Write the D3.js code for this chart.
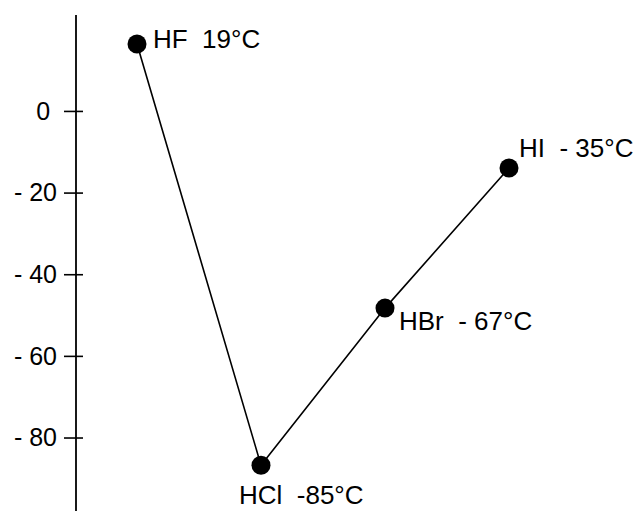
<!DOCTYPE html>
<html>
<head>
<meta charset="utf-8">
<script src="https://cdn.jsdelivr.net/npm/d3@7"></script>
<style>
  body { margin: 0; background: #fff; }
  svg { display: block; font-family: "Liberation Sans", Arial, sans-serif; }
  .label { white-space: pre; }
</style>
</head>
<body>
<div id="chart"></div>
<script>
// hydrogen halides, boiling point chart
const compounds = ['HF', 'HCl', 'HBr', 'HI'];
const plotted = [16.4, -86.8, -48.3, -14];          // where the dots sit
const labels = ['HF  19°C', 'HCl  -85°C', 'HBr  - 67°C', 'HI  - 35°C'];
const tickValues = [0, -20, -40, -60, -80];

// label placement relative to the dot (layout only)
const labelOffset = [[16, 4], [-22, 39], [14, 22], [10, -11]];

const width = 636, height = 511;

const svg = d3.select('#chart').append('svg')
  .attr('width', width)
  .attr('height', height);

const sx = d3.scalePoint()
  .domain(compounds)
  .range([137, 509]);

const sy = d3.scaleLinear()
  .domain([-98, 23.5])
  .range([height, 15]);

const axisX = 76;

// axis line runs the full height
svg.append('line')
  .attr('x1', axisX).attr('x2', axisX)
  .attr('y1', sy.range()[1]).attr('y2', sy.range()[0])
  .attr('stroke', '#000')
  .attr('stroke-width', 1.8);

const axis = d3.axisLeft(sy)
  .tickValues(tickValues)
  .tickSize(0)
  .tickPadding(19)
  .tickFormat(d => d === 0 ? '0\u00a0' : '- ' + Math.abs(d));

const gAxis = svg.append('g')
  .attr('transform', 'translate(' + axisX + ',0)')
  .call(axis);

gAxis.select('.domain').remove();
gAxis.selectAll('.tick line')
  .attr('x1', -12).attr('x2', 7)
  .attr('stroke', '#000')
  .attr('stroke-width', 1.6);
gAxis.selectAll('.tick text')
  .attr('fill', '#000')
  .attr('font-size', 25)
  .attr('dy', '0.33em')
  .style('font-family', '"Liberation Sans", Arial, sans-serif');

const pts = compounds.map((c, i) => ({name: c, value: plotted[i], label: labels[i], off: labelOffset[i]}));

svg.append('path')
  .datum(pts)
  .attr('fill', 'none')
  .attr('stroke', '#000')
  .attr('stroke-width', 1.6)
  .attr('d', d3.line().x(d => sx(d.name)).y(d => sy(d.value)));

svg.selectAll('.dot')
  .data(pts)
  .enter()
  .append('circle')
  .attr('class', 'dot')
  .attr('cx', d => sx(d.name))
  .attr('cy', d => sy(d.value))
  .attr('r', 9.5)
  .attr('fill', '#000');

svg.selectAll('.label')
  .data(pts)
  .enter()
  .append('text')
  .attr('class', 'label')
  .attr('x', d => sx(d.name) + d.off[0])
  .attr('y', d => sy(d.value) + d.off[1])
  .attr('font-size', 26)
  .attr('fill', '#000')
  .text(d => d.label);
</script>
</body>
</html>
